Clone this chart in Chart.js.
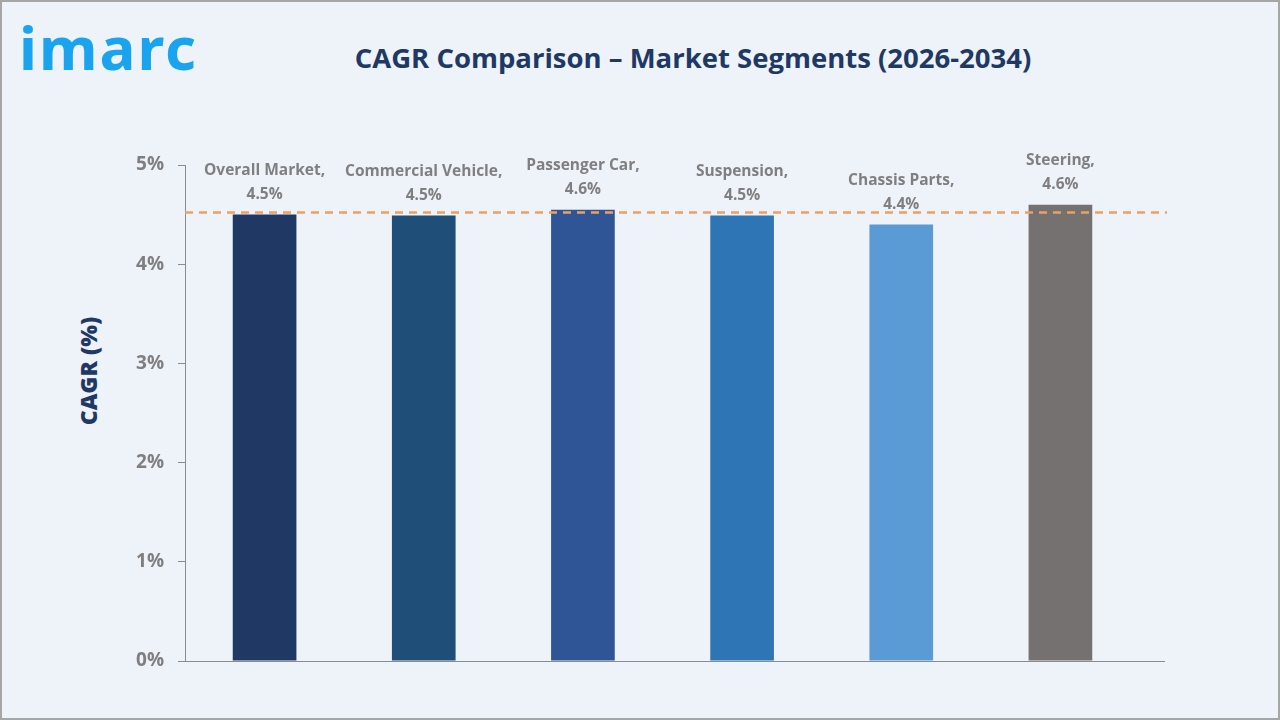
<!DOCTYPE html>
<html>
<head>
<meta charset="utf-8">
<script src="https://cdn.jsdelivr.net/npm/chart.js@4.4.1/dist/chart.umd.min.js"></script>
<style>
    html, body { margin: 0; padding: 0; }
    body { width: 1280px; height: 720px; overflow: hidden; background: #eef2f9; }
    #frame {
        position: absolute; left: 0; top: 0; width: 1276px; height: 716px;
        border: 2px solid #a6a6a6; background: #eef2f9;
    }
    #logo {
        position: absolute; left: 19px; top: 6px;
        font-family: "Noto Sans", sans-serif; font-weight: 700; font-size: 60px;
        color: #1aa3ef; letter-spacing: 2px;
    }
    #title {
        position: absolute; left: 0; width: 1386px; top: 39px; text-align: center;
        font-family: "Open Sans", sans-serif; font-weight: 700; font-size: 27.5px;
        color: #203864;
    }
    #yTitle {
        position: absolute; left: 88px; top: 371px;
        transform: translate(-50%, -50%) rotate(-90deg);
        font-family: "Open Sans", sans-serif; font-weight: 800; font-size: 23px;
        color: #203864; white-space: nowrap;
    }
    #myChart { position: absolute; left: 0; top: 0; }
</style>
</head>
<body>
<div id="frame"></div>
<div id="logo">imarc</div>
<div id="title">CAGR Comparison – Market Segments (2026-2034)</div>
<div id="yTitle">CAGR (%)</div>
<canvas id="myChart" width="1280" height="720"></canvas>
<script>
// chart data
const segments = ['Overall Market', 'Commercial Vehicle', 'Passenger Car', 'Suspension', 'Chassis Parts', 'Steering'];
const cagrValues = [4.5, 4.49, 4.55, 4.49, 4.4, 4.6];
const cagrLabels = ['4.5%', '4.5%', '4.6%', '4.5%', '4.4%', '4.6%'];
const barColors = ['#1f3864', '#1f4e79', '#2f5597', '#2e75b6', '#5b9bd5', '#767171'];
const averageCagr = 4.52;
const yTicks = [0, 1, 2, 3, 4, 5];

document.addEventListener('DOMContentLoaded', () => {
    if (typeof Chart === 'undefined') {
        console.error('Chart.js is not loaded');
        return;
    }

    const ctx = document.getElementById('myChart').getContext('2d');

    // dashed average line + extended x axis line
    const averageLine = {
        id: 'averageLine',
        afterDatasetsDraw(chart) {
            const { ctx, chartArea, scales } = chart;
            const y = scales.y.getPixelForValue(averageCagr);
            ctx.save();
            ctx.strokeStyle = '#ee9f62';
            ctx.lineWidth = 2.5;
            ctx.setLineDash([8, 6]);
            ctx.beginPath();
            ctx.moveTo(chartArea.left, y);
            ctx.lineTo(chartArea.right + 27, y);
            ctx.stroke();
            ctx.setLineDash([]);
            ctx.strokeStyle = '#8c8c8c';
            ctx.lineWidth = 1;
            ctx.beginPath();
            ctx.moveTo(chartArea.right, chartArea.bottom + 0.5);
            ctx.lineTo(chartArea.right + 25, chartArea.bottom + 0.5);
            ctx.stroke();
            ctx.restore();
        }
    };

    // two-line labels above each bar
    const barLabels = {
        id: 'barLabels',
        afterDatasetsDraw(chart) {
            const { ctx } = chart;
            const meta = chart.getDatasetMeta(0);
            ctx.save();
            ctx.fillStyle = '#7f7f7f';
            ctx.font = 'bold 15.5px "Open Sans", sans-serif';
            ctx.textAlign = 'center';
            ctx.textBaseline = 'middle';
            meta.data.forEach((bar, i) => {
                ctx.fillText(cagrLabels[i], bar.x, bar.y - 20);
                ctx.fillText(segments[i] + ',', bar.x, bar.y - 44);
            });
            ctx.restore();
        }
    };

    new Chart(ctx, {
        type: 'bar',
        data: {
            labels: segments,
            datasets: [{
                data: cagrValues,
                backgroundColor: barColors,
                categoryPercentage: 1,
                barPercentage: 0.4
            }]
        },
        options: {
            responsive: false,
            animation: false,
            devicePixelRatio: 1,
            layout: { padding: { top: 165, right: 140, bottom: 59, left: 0 } },
            plugins: {
                legend: { display: false },
                tooltip: { enabled: false }
            },
            scales: {
                x: {
                    grid: { display: false },
                    border: { display: true, color: '#8c8c8c' },
                    ticks: { display: false },
                    afterFit: scale => { scale.height = 0; }
                },
                y: {
                    min: 0,
                    max: 5,
                    afterFit: scale => { scale.width = 185; },
                    afterBuildTicks: scale => { scale.ticks = yTicks.map(v => ({ value: v })); },
                    grid: { display: true, drawOnChartArea: false, drawTicks: true, tickLength: 7, color: '#8c8c8c' },
                    border: { display: true, color: '#8c8c8c' },
                    ticks: {
                        padding: 14,
                        color: '#7f7f7f',
                        font: { family: 'Open Sans', weight: 'bold', size: 19 },
                        callback: v => v + '%'
                    }
                }
            }
        },
        plugins: [averageLine, barLabels]
    });
});
</script>
</body>
</html>
